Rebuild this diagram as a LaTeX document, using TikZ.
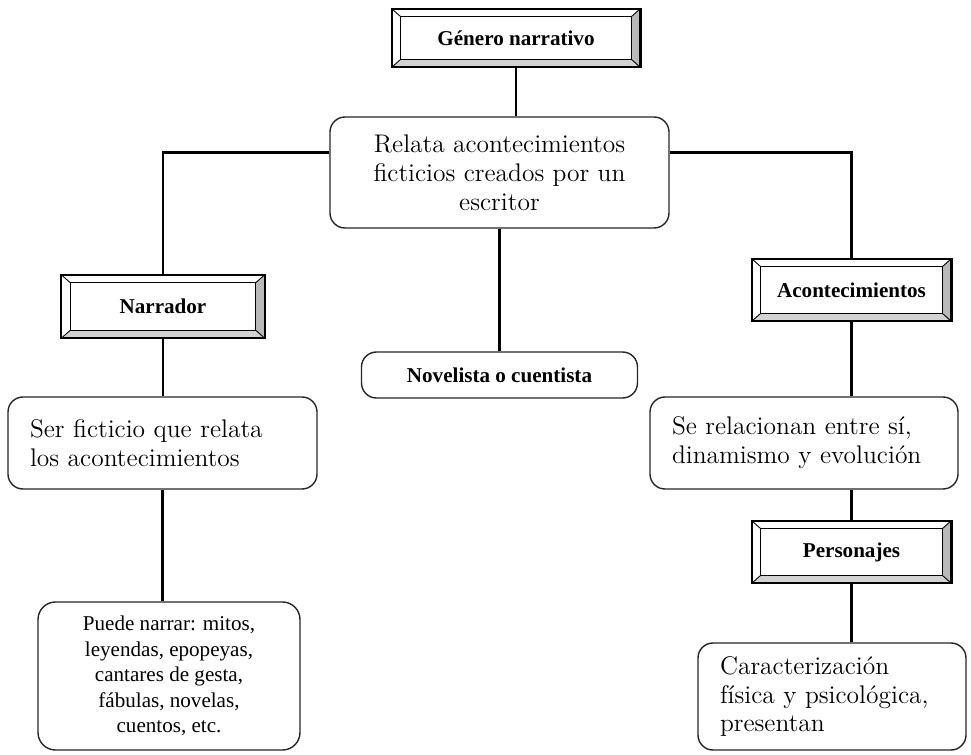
\documentclass[tikz,border=0pt]{standalone}
\usepackage{fontspec}
\newfontfamily\timesfont{Liberation Serif}
\begin{document}
\begin{tikzpicture}[
    bevelbox/.style={minimum width=3.98cm, minimum height=1.24cm, inner sep=0pt,
      font=\timesfont\bfseries\fontsize{12}{14}\selectfont},
    roundbox/.style={draw=black!85, line width=0.8pt, rounded corners=0.3cm, inner sep=0pt},
    bigtext/.style={font=\fontsize{14.5}{16.5}\selectfont},
    leftbox/.style={roundbox, bigtext, align=left, inner xsep=0.44cm},
    link/.style={line width=1.2pt}
  ]
  \useasboundingbox (0,0) rectangle (19.42,-15.1);

  % boxes
  \node[bevelbox, minimum width=4.96cm, minimum height=1.16cm] (gen) at (10.32,-0.76) {Género narrativo};
  \node[roundbox, bigtext, align=center, minimum width=6.78cm, minimum height=2.22cm] (relata) at (9.99,-3.45)
    {Relata acontecimientos\\ ficticios creados por un\\ escritor};
  \node[bevelbox, minimum width=4.06cm, minimum height=1.26cm] (narr) at (3.26,-6.13) {Narrador};
  \node[roundbox, minimum width=5.52cm, minimum height=0.92cm, font=\timesfont\bfseries\fontsize{12}{14}\selectfont] (nov) at (9.99,-7.5) {Novelista o cuentista};
  \node[bevelbox] (acon) at (17.03,-5.8) {Acontecimientos};
  \node[leftbox, text width=5.30cm, minimum height=1.84cm] (ser) at (3.25,-8.86)
    {Ser ficticio que relata\\ los acontecimientos};
  \node[leftbox, text width=5.28cm, minimum height=1.84cm] (serel) at (16.08,-8.86)
    {Se relacionan entre sí,\\ dinamismo y evolución};
  \node[roundbox, rounded corners=0.35cm, align=center, minimum width=5.24cm, minimum height=2.96cm,
    font=\timesfont\fontsize{12}{14.5}\selectfont] (puede) at (3.38,-13.52)
    {Puede narrar: mitos,\\ leyendas, epopeyas,\\ cantares de gesta,\\ fábulas, novelas,\\ cuentos, etc.};
  \node[bevelbox] (pers) at (17.03,-11.04) {Personajes};
  \node[leftbox, text width=4.48cm, minimum height=2.14cm] (carac) at (16.64,-13.93)
    {Caracterización\\ física y psicológica,\\ presentan};

  % lines
  \draw[link] (gen.south) -- (gen.south |- relata.north);
  \draw[link] ([yshift=0.4cm]relata.west) -| (narr.north);
  \draw[link] ([yshift=0.4cm]relata.east) -| (acon.north);
  \draw[link] (relata.south) -- (relata.south |- nov.north);
  \draw[link] (narr.south) -- (narr.south |- ser.north);
  \draw[link] (ser.south) -- (ser.south |- puede.north);
  \draw[link] (acon.south) -- (acon.south |- serel.north);
  \draw[link] (pers.north |- serel.south) -- (pers.north);
  \draw[link] (pers.south) -- (pers.south |- carac.north);

  % bevel frames
  \foreach \b in {gen,narr,acon,pers}{
    \fill[gray!55] (\b.north east) -- (\b.south east) -- ([shift={(-0.18cm,0.16cm)}]\b.south east)
      -- ([shift={(-0.18cm,-0.16cm)}]\b.north east) -- cycle;
    \fill[gray!35] (\b.south west) -- (\b.south east) -- ([shift={(-0.18cm,0.16cm)}]\b.south east)
      -- ([shift={(0.18cm,0.16cm)}]\b.south west) -- cycle;
    \draw[line width=0.7pt] ([shift={(0.18cm,0.16cm)}]\b.south west) rectangle ([shift={(-0.18cm,-0.16cm)}]\b.north east);
    \draw[line width=0.5pt] (\b.south west) -- ++(0.18cm,0.16cm);
    \draw[line width=0.5pt] (\b.south east) -- ++(-0.18cm,0.16cm);
    \draw[line width=0.5pt] (\b.north west) -- ++(0.18cm,-0.16cm);
    \draw[line width=0.5pt] (\b.north east) -- ++(-0.18cm,-0.16cm);
    \draw[line width=1.3pt] (\b.south west) rectangle (\b.north east);
  }
\end{tikzpicture}
\end{document}
